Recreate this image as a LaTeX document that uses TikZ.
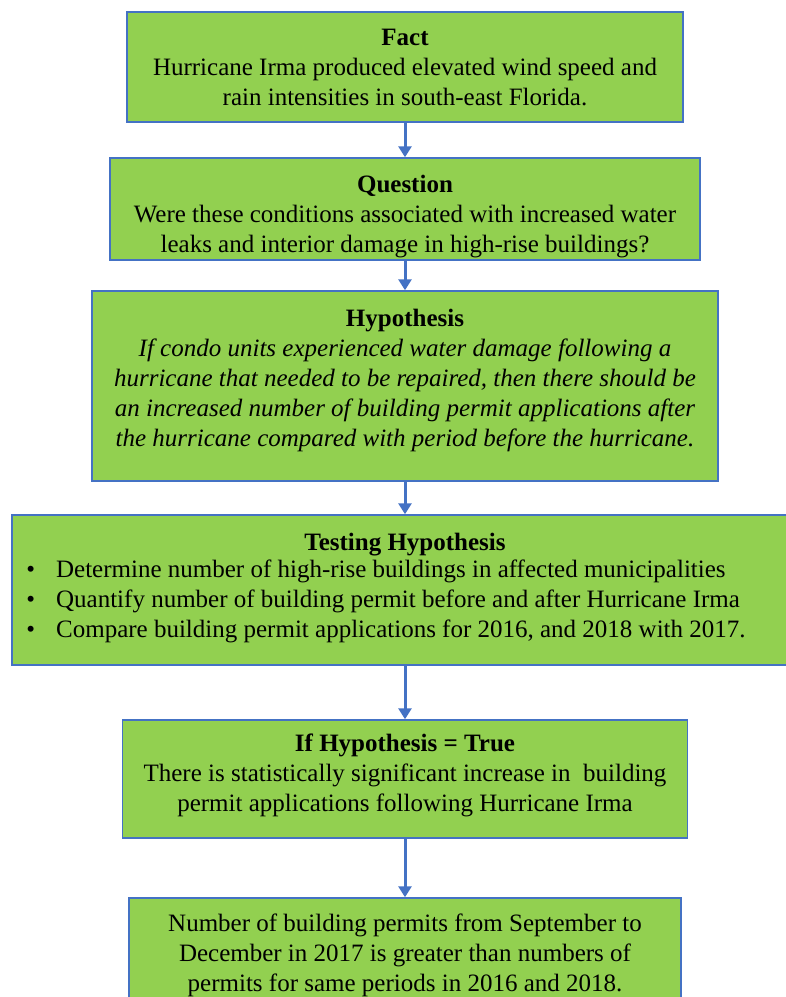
\documentclass[tikz,border=0pt]{standalone}
\usepackage{fontspec}
\setmainfont{Liberation Serif}
\usepackage{xcolor}
\usetikzlibrary{arrows.meta, positioning}
\definecolor{boxgreen}{HTML}{92D050}
\definecolor{boxblue}{HTML}{4472C4}

\begin{document}
\begin{tikzpicture}[
    x=1pt, y=-1pt,
    box/.style={rectangle, draw=boxblue, fill=boxgreen, line width=1.5pt, text centered, align=center, inner sep=0pt, font=\fontsize{25}{30}\selectfont},
    arrow/.style={-{Triangle[width=13pt,length=11pt]}, line width=3pt, color=boxblue}
]
\useasboundingbox (0,0) rectangle (786,997);

% Flow boxes
\node[box, minimum width=556pt, minimum height=110pt] (fact) at (405,67) {\textbf{Fact}\\ Hurricane Irma produced elevated wind speed and\\ rain intensities in south-east Florida.};
\node[box, minimum width=590pt, minimum height=102pt] (question) at (405,209) {\rule{0pt}{32pt}\textbf{Question}\\ Were these conditions associated with increased water\\ leaks and interior damage in high-rise buildings?};
\node[box, minimum width=626pt, minimum height=190pt] (hypothesis) at (405,386) {\textbf{Hypothesis}\\ \itshape If condo units experienced water damage following a\\ \itshape hurricane that needed to be repaired, then there should be\\ \itshape an increased number of building permit applications after\\ \itshape the hurricane compared with period before the hurricane.\rule[-17pt]{0pt}{1pt}};
\node[box, minimum width=786pt, minimum height=150pt] (testing) at (405,590) {\textbf{Testing Hypothesis}\\
    \begin{tabular}{@{}l@{\hspace{21pt}}l@{}}
    \textbullet & Determine number of high-rise buildings in affected municipalities\\
    \textbullet & Quantify number of building permit before and after Hurricane Irma\\
    \textbullet & Compare building permit applications for 2016, and 2018 with 2017.
    \end{tabular}\hspace*{38pt}};
\node[box, minimum width=565pt, minimum height=118pt] (result) at (405,779) {\textbf{If Hypothesis = True}\\ There is statistically significant increase in\ \ building\\ permit applications following Hurricane Irma\rule[-12pt]{0pt}{1pt}};
\node[box, minimum width=552pt, minimum height=114pt] (outcome) at (405,955) {Number of building permits from September to\\ December in 2017 is greater than numbers of\\ permits for same periods in 2016 and 2018.};

% Arrows
\draw[arrow] (fact) -- (question);
\draw[arrow] (question) -- (hypothesis);
\draw[arrow] (hypothesis) -- (testing);
\draw[arrow] (testing) -- (result);
\draw[arrow] (result) -- (outcome);

\end{tikzpicture}
\end{document}
